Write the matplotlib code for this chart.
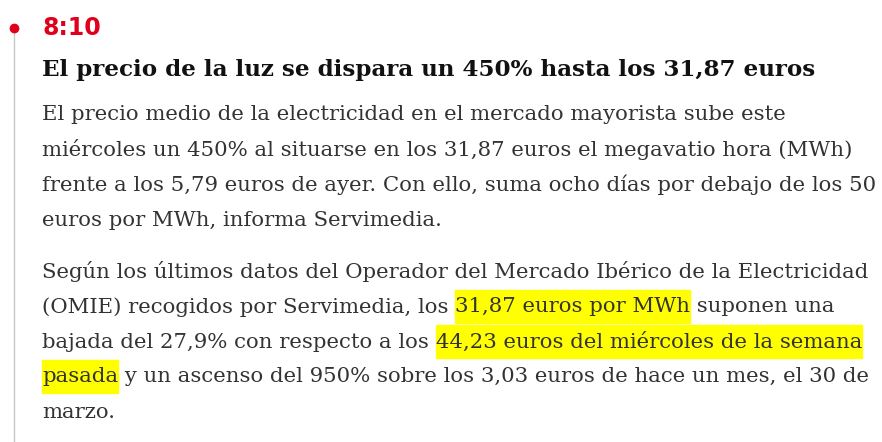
import matplotlib
matplotlib.use("Agg")
import matplotlib.pyplot as plt
from matplotlib.patches import Rectangle

time_label = "8:10"
title = "El precio de la luz se dispara un 450% hasta los 31,87 euros"
para1 = [
    [("El precio medio de la electricidad en el mercado mayorista sube este", False)],
    [("miércoles un 450% al situarse en los 31,87 euros el megavatio hora (MWh)", False)],
    [("frente a los 5,79 euros de ayer. Con ello, suma ocho días por debajo de los 50", False)],
    [("euros por MWh, informa Servimedia.", False)],
]
para2 = [
    [("Según los últimos datos del Operador del Mercado Ibérico de la Electricidad", False)],
    [("(OMIE) recogidos por Servimedia, los ", False), ("31,87 euros por MWh", True), (" suponen una", False)],
    [("bajada del 27,9% con respecto a los ", False), ("44,23 euros del miércoles de la semana", True)],
    [("pasada", True), (" y un ascenso del 950% sobre los 3,03 euros de hace un mes, el 30 de", False)],
    [("marzo.", False)],
]
para1_y = [115, 150, 185, 220]
para2_y = [272, 307, 342, 377, 412]

W, H = 882, 442
fig = plt.figure(figsize=(W/100, H/100), dpi=100)
ax = fig.add_axes([0, 0, 1, 1])
ax.set_xlim(0, W); ax.set_ylim(H, 0); ax.axis("off")
fig.canvas.draw()
r = fig.canvas.get_renderer()

red = "#e0001b"
ax.plot([14, 14], [28, H], color="#c8c8c8", lw=1)
ax.plot([14], [28], "o", color=red, ms=6)
ax.text(42, 28, time_label, color=red, fontsize=17, fontweight="bold",
        family="DejaVu Sans", va="center")

FAM = "DejaVu Serif"

def width(s, size, weight="normal"):
    t = ax.text(0, 0, s, fontsize=size, family=FAM, fontweight=weight)
    w = t.get_window_extent(r).width
    t.remove()
    return w

# fit sizes
ts = 18 * 776 / width(title, 18, "bold")
bs = 16 * 748 / width(para1[0][0][0], 16)

ax.text(42, 70, title, fontsize=ts, family=FAM, fontweight="bold",
        va="center", color="#111111")

def draw_line(segs, y):
    x = 42
    for s, hl in segs:
        w = width(s, bs)
        if hl:
            ax.add_patch(Rectangle((x, y - 17), w, 33, color="#ffff00", zorder=1))
        ax.text(x, y, s, fontsize=bs, family=FAM, va="center", color="#333333", zorder=2)
        x += w

for segs, y in zip(para1, para1_y):
    draw_line(segs, y)
for segs, y in zip(para2, para2_y):
    draw_line(segs, y)

fig.savefig("out.png", dpi=100, facecolor="white")
